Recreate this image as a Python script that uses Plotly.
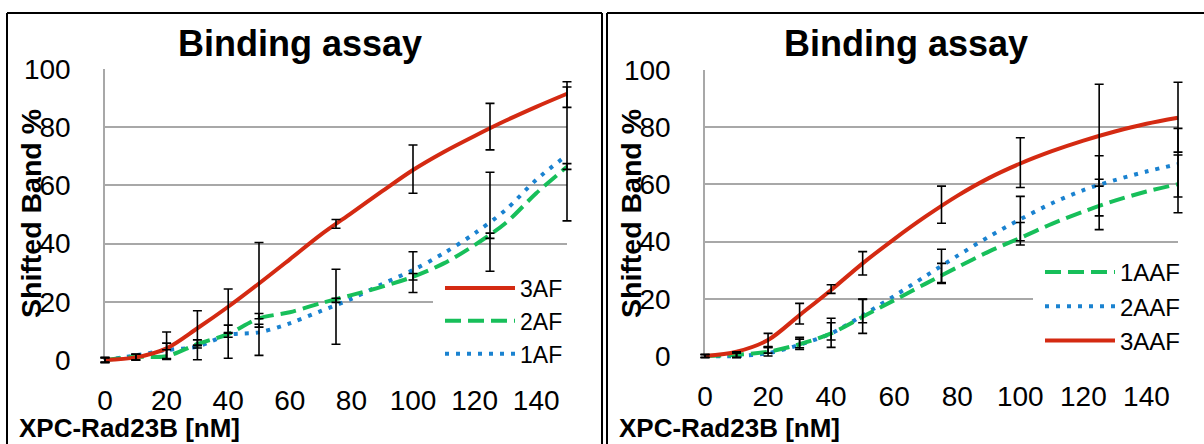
import plotly.graph_objects as go

W, H = 1204, 444
FONT = "Liberation Sans"

# ---------------- data ----------------
X_FIT = [0, 10, 20, 30, 40, 50, 60, 70, 80, 90, 100, 110, 120, 130, 140, 150]

# left panel fitted curves
L_3AF = [0, 0.9, 4.0, 10.9, 18.3, 26.3, 34.6, 43.0, 50.5, 58.0, 65.3, 71.5, 77.0, 82.2, 87.0, 91.5]
L_2AF = [0, 1.1, 1.3, 5.5, 8.9, 14.3, 16.4, 19.5, 22.3, 25.2, 28.6, 33.2, 39.5, 47.0, 57.3, 66.4]
L_1AF = [0, 1.6, 3.4, 4.6, 8.6, 9.5, 12.6, 16.8, 21.0, 26.1, 30.9, 36.7, 43.5, 51.5, 61.9, 70.4]

# right panel fitted curves
R_1AAF = [0, 0.4, 1.5, 4.1, 7.9, 13.7, 19.5, 25.3, 31.0, 36.5, 41.3, 46.2, 50.5, 54.3, 57.5, 60.1]
R_2AAF = [0, 0.0, 1.0, 3.9, 7.9, 14.2, 21.0, 28.0, 35.0, 41.7, 47.8, 53.4, 58.0, 61.5, 64.5, 67.1]
R_3AAF = [0, 1.5, 5.6, 14.3, 23.1, 32.4, 40.9, 48.8, 56.0, 62.2, 67.3, 71.6, 75.3, 78.5, 81.2, 83.3]

# measured points with error bars
X_PTS = [0, 10, 20, 30, 40, 50, 75, 100, 125, 150]

L_3AF_MEAN = [0, 1.0, 5.0, 8.5, 12.5, 21.0, 46.8, 65.6, 80.2, 91.2]
L_3AF_ERR = [0.8, 1.0, 4.6, 8.4, 11.9, 19.4, 1.5, 8.3, 8.0, 4.4]
L_2AF_MEAN = [0, 1.0, 2.0, 5.9, 10.6, 15.1, 20.5, 28.6, 42.7, 66.5]
L_2AF_ERR = [0.8, 1.0, 1.5, 1.0, 1.4, 0.9, 0.7, 1.1, 0.9, 1.0]
L_1AF_MEAN = [0, 1.0, 3.0, 4.6, 8.6, 11.8, 18.3, 30.2, 47.5, 70.8]
L_1AF_ERR = [0.8, 1.0, 2.8, 0.5, 0.8, 0.5, 12.9, 7.0, 17.0, 23.0]

R_3AAF_MEAN = [0, 0.5, 5.6, 14.8, 23.4, 32.4, 52.9, 67.6, 77.2, 83.5]
R_3AAF_ERR = [0.5, 1.0, 2.3, 3.6, 1.5, 4.1, 6.5, 8.7, 17.8, 12.2]
R_1AAF_MEAN = [0, 0.3, 1.5, 4.4, 7.3, 13.9, 28.9, 43.5, 53.0, 60.2]
R_1AAF_ERR = [0.5, 0.8, 1.5, 2.1, 4.3, 6.0, 3.5, 3.2, 8.8, 10.1]
R_2AAF_MEAN = [0, 0.3, 2.0, 4.4, 9.4, 15.7, 31.5, 47.3, 59.5, 67.6]
R_2AAF_ERR = [0.5, 0.8, 1.0, 1.5, 3.8, 4.1, 5.8, 8.5, 10.5, 12.0]

X_TICKS = [0, 20, 40, 60, 80, 100, 120, 140]
Y_TICKS = [0, 20, 40, 60, 80, 100]
X_RANGE = [0, 150]
Y_RANGE = [0, 100]

TITLE = "Binding assay"
X_TITLE = "XPC-Rad23B [nM]"
Y_TITLE = "Shifted Band %"

RED = "#D42A12"
GREEN = "#17BF5A"
BLUE = "#1A82D0"
GRID = "#A8A8A8"

# ---------------- layout geometry (pixels) ----------------
PANELS = {
    "L": dict(l=105, r=567, t=69, b=360),
    "R": dict(l=705, r=1178, t=70, b=356),
}
PAD = 20  # extra room so error bars are not clipped at the plot edges


def dx(l, r):
    return [l / W, r / W]


def dy(t, b):
    return [1 - b / H, 1 - t / H]


fig = go.Figure()


def grid_axes(p, xn, yn):
    xa = dict(domain=dx(p["l"], p["r"]), range=X_RANGE, anchor=yn, tickvals=X_TICKS,
              showgrid=False, zeroline=False, showline=False, ticks="",
              ticklabelstandoff=21, tickfont=dict(family=FONT, size=28, color="black"),
              fixedrange=True, automargin=False)
    ya = dict(domain=dy(p["t"], p["b"]), range=[Y_RANGE[0] - 0.02, Y_RANGE[1] + 0.02],
              anchor=xn, tickvals=Y_TICKS,
              showgrid=True, gridcolor=GRID, gridwidth=1.5, zeroline=False,
              showline=True, linecolor=GRID, linewidth=1.5, ticks="",
              ticklabelstandoff=27, tickfont=dict(family=FONT, size=28, color="black"),
              fixedrange=True, automargin=False)
    return xa, ya


def data_axes(p, xn, yn):
    sx = (X_RANGE[1] - X_RANGE[0]) / (p["r"] - p["l"])
    sy = (Y_RANGE[1] - Y_RANGE[0]) / (p["b"] - p["t"])
    xa = dict(domain=dx(p["l"] - PAD, p["r"] + PAD),
              range=[X_RANGE[0] - PAD * sx, X_RANGE[1] + PAD * sx],
              anchor=yn, visible=False, fixedrange=True, automargin=False)
    ya = dict(domain=dy(p["t"] - PAD, p["b"] + PAD),
              range=[Y_RANGE[0] - PAD * sy, Y_RANGE[1] + PAD * sy],
              anchor=xn, visible=False, fixedrange=True, automargin=False)
    return xa, ya


xa1, ya1 = grid_axes(PANELS["L"], "x", "y")
xa2, ya2 = grid_axes(PANELS["R"], "x2", "y2")
xa3, ya3 = data_axes(PANELS["L"], "x3", "y3")
xa4, ya4 = data_axes(PANELS["R"], "x4", "y4")

# empty traces so that the grid/tick subplots are created
for xa, ya in (("x", "y"), ("x2", "y2")):
    fig.add_trace(go.Scatter(x=[None], y=[None], mode="lines", xaxis=xa, yaxis=ya,
                             showlegend=False, hoverinfo="skip"))

STYLE = {
    "red": dict(color=RED, width=4, dash="solid"),
    "green": dict(color=GREEN, width=4, dash="16px,7px"),
    "blue": dict(color=BLUE, width=4, dash="4px,7px"),
}


def add_curve(name, ys, style, xa, ya, legend, rank):
    fig.add_trace(go.Scatter(x=X_FIT, y=ys, name=name, mode="lines",
                             line=dict(shape="spline", smoothing=0.9, **STYLE[style]),
                             xaxis=xa, yaxis=ya, legend=legend, legendrank=rank,
                             hoverinfo="skip"))


def add_err(mean, err, xa, ya):
    fig.add_trace(go.Scatter(x=X_PTS, y=mean, mode="markers",
                             marker=dict(size=1, color="rgba(0,0,0,0)"),
                             error_y=dict(type="data", array=err, visible=True,
                                          color="black", thickness=1.6, width=4.5),
                             xaxis=xa, yaxis=ya, showlegend=False, hoverinfo="skip"))


# left panel
add_curve("1AF", L_1AF, "blue", "x3", "y3", "legend", 3)
add_curve("2AF", L_2AF, "green", "x3", "y3", "legend", 2)
add_curve("3AF", L_3AF, "red", "x3", "y3", "legend", 1)
add_err(L_3AF_MEAN, L_3AF_ERR, "x3", "y3")
add_err(L_2AF_MEAN, L_2AF_ERR, "x3", "y3")
add_err(L_1AF_MEAN, L_1AF_ERR, "x3", "y3")

# right panel
add_curve("2AAF", R_2AAF, "blue", "x4", "y4", "legend2", 2)
add_curve("1AAF", R_1AAF, "green", "x4", "y4", "legend2", 1)
add_curve("3AAF", R_3AAF, "red", "x4", "y4", "legend2", 3)
add_err(R_3AAF_MEAN, R_3AAF_ERR, "x4", "y4")
add_err(R_1AAF_MEAN, R_1AAF_ERR, "x4", "y4")
add_err(R_2AAF_MEAN, R_2AAF_ERR, "x4", "y4")

legend_common = dict(bgcolor="rgba(0,0,0,0)", borderwidth=0, itemwidth=70,
                     tracegroupgap=0, xanchor="left", yanchor="top", itemclick=False,
                     itemdoubleclick=False)

annotations = []
shapes = []
for key in ("L", "R"):
    p = PANELS[key]
    off = 0 if key == "L" else 600
    cx = (p["l"] + p["r"]) / 2
    annotations.append(dict(text="<b>%s</b>" % TITLE, xref="paper", yref="paper",
                            x=(cx - 36) / W, y=1 - 43 / H,
                            showarrow=False, xanchor="center", yanchor="middle",
                            font=dict(family=FONT, size=36, color="black")))
    annotations.append(dict(text="<b>%s</b>" % Y_TITLE, xref="paper", yref="paper",
                            x=(31 + off) / W, y=1 - 214 / H, textangle=-90,
                            showarrow=False, xanchor="center", yanchor="middle",
                            font=dict(family=FONT, size=28.5, color="black")))
    annotations.append(dict(text="<b>%s</b>" % X_TITLE, xref="paper", yref="paper",
                            x=(17 + off) / W, y=1 - 428 / H,
                            showarrow=False, xanchor="left", yanchor="middle",
                            font=dict(family=FONT, size=26, color="black")))

# white backing behind legends (hides the gridline there, like the original)
sxL = 150 / (PANELS["L"]["r"] - PANELS["L"]["l"])
shapes.append(dict(type="rect", xref="x3", yref="y3", layer="below",
                   x0=(433 - 105) * sxL, x1=(590 - 105) * sxL,
                   y0=(360 - 345) / 2.91, y1=(360 - 263) / 2.91,
                   fillcolor="white", line=dict(width=0)))
shapes.append(dict(type="rect", xref="x4", yref="y4", layer="below",
                   x0=(1033 - 705) * 150 / 473, x1=(1195 - 705) * 150 / 473,
                   y0=(356 - 348) / 2.86, y1=(356 - 256) / 2.86,
                   fillcolor="white", line=dict(width=0)))

# panel frames
FR = dict(color="black", width=2)
shapes += [
    dict(type="line", xref="paper", yref="paper", x0=7 / W, x1=7 / W, y0=0, y1=1 - 13 / H, line=FR),
    dict(type="line", xref="paper", yref="paper", x0=7 / W, x1=602 / W, y0=1 - 13 / H, y1=1 - 13 / H, line=FR),
    dict(type="line", xref="paper", yref="paper", x0=602 / W, x1=602 / W, y0=0, y1=1 - 13 / H, line=FR),
    dict(type="line", xref="paper", yref="paper", x0=607 / W, x1=607 / W, y0=0, y1=1 - 13 / H, line=FR),
    dict(type="line", xref="paper", yref="paper", x0=607 / W, x1=1, y0=1 - 13 / H, y1=1 - 13 / H, line=FR),
]

fig.update_layout(
    template="none",
    width=W, height=H, margin=dict(l=0, r=0, t=0, b=0, autoexpand=False),
    paper_bgcolor="white", plot_bgcolor="rgba(0,0,0,0)",
    font=dict(family=FONT, color="black"),
    xaxis=xa1, yaxis=ya1, xaxis2=xa2, yaxis2=ya2,
    xaxis3=xa3, yaxis3=ya3, xaxis4=xa4, yaxis4=ya4,
    legend=dict(x=440 / W, y=1 - 266.5 / H, font=dict(family=FONT, size=23, color="black"),
                **legend_common),
    legend2=dict(x=1040 / W, y=1 - 250 / H, font=dict(family=FONT, size=24, color="black"),
                 **legend_common),
    annotations=annotations, shapes=shapes, hovermode=False,
)

fig.write_html("out.html", config={"displayModeBar": False})
